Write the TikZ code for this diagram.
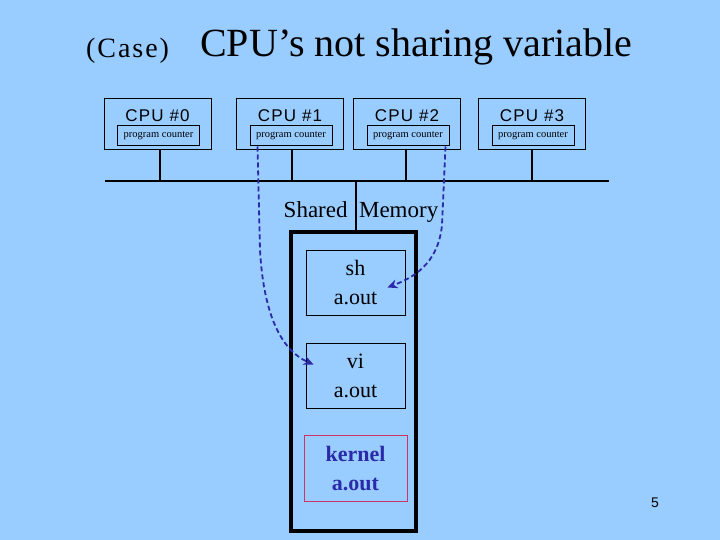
\documentclass[tikz,border=0pt]{standalone}
\usepackage{fontspec}
\setmainfont{Liberation Serif}
\setsansfont{Liberation Sans}
\newfontfamily\spacedserif[LetterSpace=7]{Liberation Serif}
\newfontfamily\spacedsans[LetterSpace=7]{Liberation Sans}
\usetikzlibrary{arrows.meta}
\definecolor{bgblue}{HTML}{99CCFF}
\definecolor{arrblue}{HTML}{2B2BAA}
\definecolor{kred}{HTML}{CC3366}
\tikzset{
  cpubox/.style={draw=black, line width=1pt, minimum width=107pt, minimum height=51pt, inner sep=0pt},
  pcbox/.style={draw=black, line width=1pt, minimum width=82pt, minimum height=20pt, inner sep=0pt, font=\fontsize{10.5}{11}\selectfont},
  cpulabel/.style={font=\spacedsans\fontsize{17}{19}\selectfont, inner sep=0pt},
  membox/.style={draw=black, line width=1pt, minimum width=99pt, minimum height=65pt, inner sep=0pt, align=center, font=\fontsize{22}{29}\selectfont},
  bus/.style={line width=2.5pt},
  dasharrow/.style={draw=arrblue, line width=1.8pt, dash pattern=on 5pt off 3pt, -{Stealth[length=10pt,width=9pt]}}
}
\begin{document}
\begin{tikzpicture}[x=1pt,y=-1pt]
\fill[bgblue] (0,0) rectangle (720,540);
\useasboundingbox (0,0) rectangle (720,540);
% title
\node[anchor=base west, inner sep=0pt, font=\spacedserif\fontsize{28}{30}\selectfont] (case) at (86,58) {(Case)};
\node[anchor=base west, inner sep=0pt, font=\fontsize{40}{44}\selectfont] (title) at (200,57) {CPU’s not sharing variable};
% CPUs
\foreach \i/\cx in {0/157.5, 1/290, 2/407, 3/532}{
  \node[cpubox] (cpu\i) at (\cx,124.5) {};
  \node[cpulabel] (lab\i) at (\cx,116) {CPU \#\i};
  \node[pcbox] (pc\i) at (\cx+1,136) {program counter};
}
% bus
\coordinate (busL) at (105,181);
\coordinate (busR) at (609,181);
\draw[bus] (busL) -- (busR);
\foreach \i/\sx in {0/160, 1/292, 2/406, 3/532}{
  \coordinate (tap\i) at (\sx,181);
  \draw[bus] (cpu\i.south -| tap\i) -- (tap\i);
}
% memory
\node[draw=black, line width=4.5pt, minimum width=125pt, minimum height=299pt, inner sep=0pt] (mem) at (353.5,381.5) {};
\coordinate (memtap) at (356,181);
\draw[line width=2pt] (memtap) -- (mem.north -| memtap);
\node[font=\fontsize{23}{26}\selectfont, inner sep=0pt] (shared) at (361,212) {Shared\ \ Memory};
\node[membox] (sh) at (355.5,282.5) {sh\\a.out};
\node[membox] (vi) at (355.5,375.5) {vi\\a.out};
\node[membox, draw=kred, minimum width=103pt, minimum height=66pt, text=arrblue, font=\bfseries\fontsize{22}{29}\selectfont] (kern) at (355.5,468.5) {kernel\\a.out};
% page number
\node[font=\sffamily\fontsize{14}{16}\selectfont, inner sep=0pt] (pg) at (655,503) {5};
% arrows
\draw[dasharrow] ([xshift=8pt]pc1.south west) -- (260,250) .. controls (264,322) and (285,352) .. ([shift={(8pt,11pt)}]vi.west);
\draw[dasharrow] ([xshift=-4pt]pc2.south east) -- (442,225) .. controls (438,265) and (412,278) .. ([shift={(32pt,-5pt)}]sh.center);
\end{tikzpicture}
\end{document}
